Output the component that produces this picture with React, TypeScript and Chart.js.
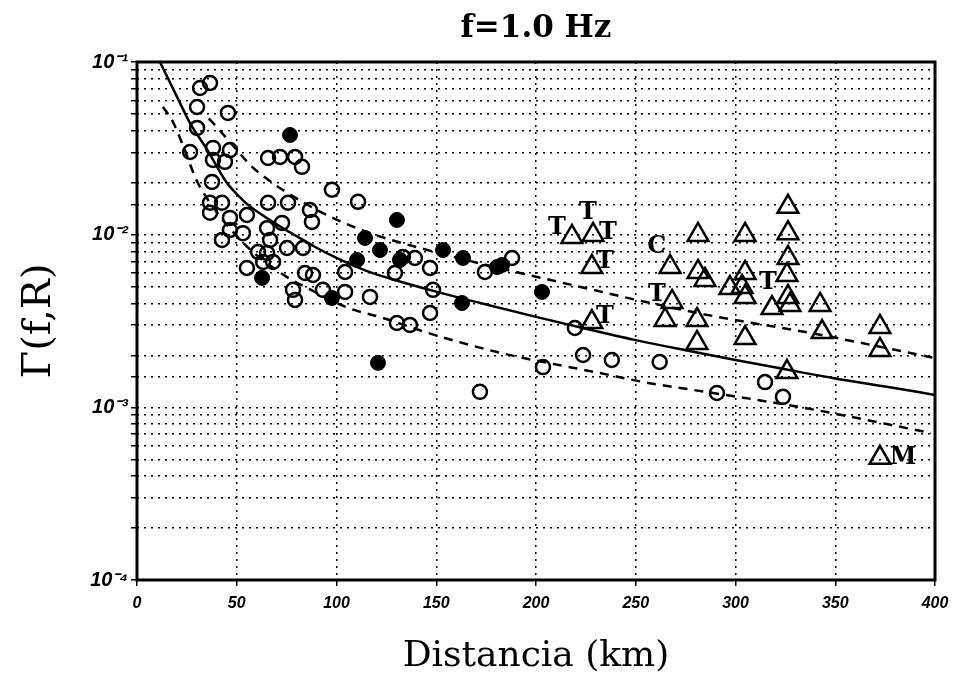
import React, { useEffect, useRef } from 'react';
import { Chart, registerables } from 'chart.js';

Chart.register(...registerables);

const TITLE = 'f=1.0 Hz';
const X_TITLE = 'Distancia (km)';
const Y_TITLE = 'Γ(f,R)';
const X_MIN = 0;
const X_MAX = 400;
const X_STEP = 50;
const Y_MIN = 1e-4;
const Y_MAX = 1e-1;
const Y_TICK_LABELS: Record<string, string> = { '-1': '10⁻¹', '-2': '10⁻²', '-3': '10⁻³', '-4': '10⁻⁴' };

// [distance km, Γ]
const openCircles: [number, number][] = [
  [31.6, 0.0707], [36.6, 0.0756], [30.1, 0.0549], [45.6, 0.0507], [30.1, 0.0415],
  [26.6, 0.0301], [38.1, 0.0318], [46.6, 0.0309], [38.1, 0.0271], [44.1, 0.0264],
  [65.7, 0.0278], [71.7, 0.0282], [79.2, 0.0282], [82.7, 0.0247], [37.6, 0.0202],
  [97.7, 0.0182], [110.8, 0.0155], [36.6, 0.0153], [42.6, 0.0153], [36.6, 0.0134],
  [46.6, 0.0125], [55.1, 0.013], [72.7, 0.0117], [65.7, 0.0153], [75.7, 0.0153],
  [86.7, 0.0139], [87.7, 0.01185], [46.6, 0.01064], [53.1, 0.0102], [42.6, 0.00932],
  [65.2, 0.0109], [66.7, 0.00932], [60.7, 0.00794], [65.2, 0.00783], [75.2, 0.00837],
  [83.2, 0.00837], [63.2, 0.00695], [68.2, 0.00695], [55.1, 0.00641], [84.2, 0.006],
  [88.2, 0.00584], [78.2, 0.00479], [79.2, 0.00419], [93.2, 0.00479], [104.3, 0.00466],
  [104.3, 0.00608], [116.8, 0.00436], [146.9, 0.00352], [130.3, 0.00308], [136.8, 0.003],
  [139.3, 0.00733], [146.9, 0.00641], [129.3, 0.006], [148.4, 0.00479], [174.4, 0.00608],
  [188, 0.00733], [133.3, 0.00743], [219.5, 0.00288], [223.6, 0.00201], [238, 0.00188],
  [203.5, 0.00171], [262, 0.00183], [171.9, 0.00123], [290.7, 0.00121], [314.8, 0.0014],
  [323.8, 0.00115],
];

const filledCircles: [number, number][] = [
  [76.7, 0.0378], [130.3, 0.01217], [114.3, 0.00957], [121.8, 0.00815], [110.3, 0.00714],
  [131.8, 0.00714], [153.4, 0.00815], [163.4, 0.00733], [180.5, 0.0065], [183, 0.00668],
  [203, 0.00466], [162.9, 0.00402], [62.7, 0.00562], [97.7, 0.0043], [120.8, 0.00181],
];

const triangles: [number, number][] = [
  [218, 0.0097], [228.6, 0.00996], [228, 0.0065], [228, 0.00312], [267.2, 0.0065],
  [281.2, 0.00996], [304.8, 0.00996], [326.3, 0.0102], [326.3, 0.0145], [281.2, 0.00608],
  [284.7, 0.00547], [304.8, 0.006], [303.3, 0.00498], [297.2, 0.00491], [304.8, 0.00436],
  [326.3, 0.00733], [325.8, 0.00584], [268.2, 0.00408], [264.7, 0.00321], [280.7, 0.00321],
  [318.3, 0.00376], [327.3, 0.00392], [342.4, 0.00392], [304.8, 0.00252], [343.4, 0.00273],
  [280.7, 0.00236], [372.4, 0.00292], [372.4, 0.00215], [325.8, 0.0016], [372.4, 0.00051],
  [326.3, 0.00436],
];

const markLabels: string[] = ['T', 'T', 'T', 'T', 'T', 'C', 'T', 'T', 'M'];
const markLabelPos: [number, number][] = [
  [210.5, 0.0109], [226, 0.0134], [236, 0.0102], [234.6, 0.00695], [234.6, 0.00334],
  [260.6, 0.0085], [260.6, 0.00448], [316.3, 0.00525], [384, 0.00051],
];

const meanCurve: [number, number][] = [
  [11.5, 0.1], [20, 0.063], [26.6, 0.0443], [35, 0.0313], [41.6, 0.0231], [45, 0.02],
  [50, 0.0172], [55, 0.0151], [60, 0.01365], [70, 0.01148], [80, 0.0098], [90, 0.0084],
  [100, 0.00733], [115, 0.00617], [130, 0.00543], [150, 0.00468], [175, 0.00394],
  [200, 0.00334], [225, 0.00285], [250, 0.00245], [275, 0.00214], [300, 0.00188],
  [325, 0.00166], [350, 0.00147], [375, 0.00132], [400, 0.00118],
];

const upperCurve: [number, number][] = [
  [36, 0.047], [39, 0.0432], [50, 0.031], [56.6, 0.0254], [63, 0.022], [73, 0.0182],
  [85, 0.015], [97, 0.0127], [117, 0.0102], [150, 0.0079], [192, 0.006], [225, 0.0049],
  [254, 0.0041], [291, 0.00334], [338, 0.00269], [400, 0.00193],
];

const lowerCurve: [number, number][] = [
  [13, 0.055], [18, 0.045], [23, 0.033], [30, 0.0205], [40, 0.0135], [50, 0.0098],
  [60, 0.0076], [75, 0.0057], [87, 0.0048], [105, 0.0038], [123, 0.0033], [149, 0.00263],
  [182, 0.00207], [232, 0.00158], [257, 0.00138], [279, 0.00126], [333, 0.001], [398, 0.00071],
];

const toXY = (arr: [number, number][]) => arr.map(([x, y]) => ({ x, y }));

const framePlugin = {
  id: 'frame',
  afterDatasetsDraw(chart: any) {
    const { ctx, chartArea } = chart;
    ctx.save();
    ctx.strokeStyle = '#000';
    ctx.lineWidth = 3;
    ctx.strokeRect(chartArea.left, chartArea.top, chartArea.right - chartArea.left, chartArea.bottom - chartArea.top);
    ctx.restore();
  },
};

const labelPlugin = {
  id: 'markLabels',
  afterDatasetsDraw(chart: any) {
    const { ctx, scales } = chart;
    ctx.save();
    ctx.fillStyle = '#000';
    ctx.font = 'bold 24px "DejaVu Serif"';
    ctx.textAlign = 'center';
    ctx.textBaseline = 'middle';
    markLabels.forEach((t, i) => {
      const [km, v] = markLabelPos[i];
      ctx.fillText(t, scales.x.getPixelForValue(km), scales.y.getPixelForValue(v));
    });
    ctx.restore();
  },
};

export default function App() {
  const ref = useRef<HTMLCanvasElement | null>(null);
  useEffect(() => {
    if (!ref.current) return;
    const lineBase = { showLine: true, pointRadius: 0, borderColor: '#000', borderWidth: 2.5, fill: false, cubicInterpolationMode: 'monotone' as const };
    const chart = new Chart(ref.current, {
      type: 'scatter',
      data: {
        datasets: [
          { label: 'media', data: toXY(meanCurve), ...lineBase },
          { label: 'superior', data: toXY(upperCurve), ...lineBase, borderDash: [9, 7] },
          { label: 'inferior', data: toXY(lowerCurve), ...lineBase, borderDash: [9, 7] },
          { label: 'abiertos', data: toXY(openCircles), pointStyle: 'circle', pointRadius: 7, borderWidth: 2.5, borderColor: '#000', backgroundColor: 'rgba(0,0,0,0)' },
          { label: 'llenos', data: toXY(filledCircles), pointStyle: 'circle', pointRadius: 7.5, borderWidth: 1, borderColor: '#000', backgroundColor: '#000' },
          { label: 'triangulos', data: toXY(triangles), pointStyle: 'triangle', pointRadius: 12, borderWidth: 2.5, borderColor: '#000', backgroundColor: 'rgba(0,0,0,0)' },
        ],
      },
      options: {
        responsive: false,
        animation: false,
        layout: { padding: { left: 0, right: 29, top: 0, bottom: 0 } },
        plugins: {
          legend: { display: false },
          tooltip: { enabled: false },
          title: {
            display: true,
            text: TITLE,
            fullSize: false,
            color: '#000',
            font: { family: '"DejaVu Serif"', size: 31, weight: 'bold', lineHeight: 1.2 },
            padding: { top: 10, bottom: 14.8 },
          },
        },
        scales: {
          x: {
            type: 'linear',
            min: X_MIN,
            max: X_MAX,
            afterFit: (s: any) => { s.height = 114; },
            border: { display: false },
            grid: { color: '#000', lineWidth: 1.5, tickLength: 6, borderDash: [2, 5] },
            ticks: {
              stepSize: X_STEP,
              padding: 8,
              color: '#000',
              maxRotation: 0,
              font: { family: '"Liberation Sans"', size: 16, style: 'italic', weight: 'bold' },
            },
            title: {
              display: true,
              text: X_TITLE,
              color: '#000',
              font: { family: '"DejaVu Serif"', size: 36, lineHeight: 1.2 },
              padding: { top: 0, bottom: 16 },
            },
          },
          y: {
            type: 'logarithmic',
            min: Y_MIN,
            max: Y_MAX,
            afterFit: (s: any) => { s.width = 137; },
            border: { display: false },
            grid: { color: '#000', lineWidth: 1.5, tickLength: 6, borderDash: [2, 5] },
            ticks: {
              autoSkip: false,
              padding: 3,
              color: '#000',
              font: { family: '"Liberation Sans"', size: 20, style: 'italic', weight: 'bold' },
              callback: (v: any) => {
                const e = Math.log10(Number(v));
                const r = Math.round(e);
                if (Math.abs(e - r) < 1e-6) return Y_TICK_LABELS[String(r)] ?? '';
                return '';
              },
            },
            title: {
              display: true,
              text: Y_TITLE,
              color: '#000',
              font: { family: '"DejaVu Serif"', size: 40, lineHeight: 1.2 },
              padding: { top: 16, bottom: 0 },
            },
          },
        },
      },
      plugins: [framePlugin, labelPlugin],
    } as any);
    const sx: any = chart.options.scales!.x;
    const sy: any = chart.options.scales!.y;
    sx.border = { display: false, dash: [2, 5] };
    sy.border = { display: false, dash: [2, 5] };
    sx.grid.borderDash = [2, 5];
    sy.grid.borderDash = [2, 5];
    chart.update();
    return () => chart.destroy();
  }, []);
  return (
    <div style={{ position: 'fixed', left: 0, top: 0, width: 964, height: 694, background: '#fff' }}>
      <canvas ref={ref} width={964} height={694} style={{ width: 964, height: 694, display: 'block' }} />
    </div>
  );
}
